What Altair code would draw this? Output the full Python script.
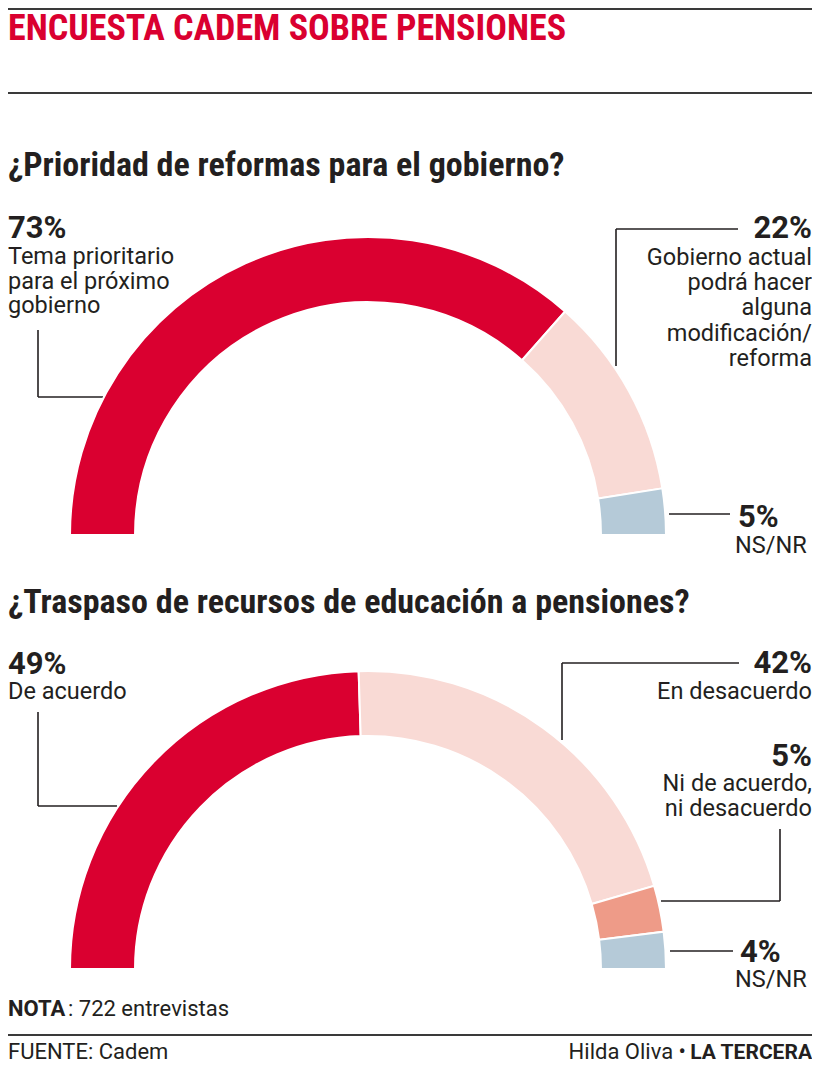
import altair as alt
import pandas as pd

# ---------------- data ----------------
TITLE = "ENCUESTA CADEM SOBRE PENSIONES"

Q1_TITLE = "¿Prioridad de reformas para el gobierno?"
Q1_CATS = ["Tema prioritario para el próximo gobierno",
           "Gobierno actual podrá hacer alguna modificación/reforma",
           "NS/NR"]
Q1_LINES = [["Tema prioritario", "para el próximo", "gobierno"],
            ["Gobierno actual", "podrá hacer", "alguna", "modificación/", "reforma"],
            ["NS/NR"]]
Q1_VALUES = [73, 22, 5]

Q2_TITLE = "¿Traspaso de recursos de educación a pensiones?"
Q2_CATS = ["De acuerdo", "En desacuerdo", "Ni de acuerdo, ni desacuerdo", "NS/NR"]
Q2_LINES = [["De acuerdo"], ["En desacuerdo"], ["Ni de acuerdo,", "ni desacuerdo"], ["NS/NR"]]
Q2_VALUES = [49, 42, 5, 4]

NOTE_BOLD = "NOTA"
NOTE_TEXT = ": 722 entrevistas"
SOURCE = "FUENTE:  Cadem"
AUTHOR = "Hilda Oliva •"
BRAND = "LA TERCERA"

# ---------------- style / layout ----------------
RED = "#DA0030"
PINK = "#F9DAD5"
SALMON = "#EE9B88"
BLUE = "#B5CAD8"
INK = "#231F20"
RULE = "#3A3A3A"
Q1_COLORS = [RED, PINK, BLUE]
Q2_COLORS = [RED, PINK, SALMON, BLUE]

BODY = "Roboto"
HEAD = "Liberation Sans Narrow, Roboto Condensed, Roboto"

# chart sits at page offset (8, 8); layout constants below are page pixels
W, H = 804, 1058
OFF = 8


def X(v):
    return min(max(v - OFF, 0), W)


def Y(v):
    return min(max(v - OFF, 1), H)


CX = 368
CY1, CY2 = 535, 969
R_OUT, R_IN = 298, 233


def arc_layer(cats, values, colors, cy):
    df = pd.DataFrame({"cat": cats, "value": values, "orden": list(range(len(cats)))})
    return alt.Chart(df).mark_arc(
        radius=R_OUT, radius2=R_IN, stroke="white", strokeWidth=2
    ).encode(
        theta=alt.Theta("value:Q", stack=True,
                        scale=alt.Scale(range=[4.71238898, 7.85398163], nice=False)),
        color=alt.Color("cat:N", scale=alt.Scale(domain=cats, range=colors), legend=None),
        order=alt.Order("orden:Q"),
        x=alt.value(X(CX)),
        y=alt.value(Y(cy)),
    )


def text_layer(rows, align, weight, size, color=INK, font=BODY, line_height=None):
    df = pd.DataFrame({"t": [r[0] for r in rows],
                       "x": [X(r[1]) for r in rows],
                       "y": [Y(r[2]) for r in rows]})
    mk = dict(align=align, baseline="alphabetic", fontWeight=weight,
              fontSize=size, color=color, font=font, lineBreak="\n")
    if line_height:
        mk["lineHeight"] = line_height
    return alt.Chart(df).mark_text(**mk).encode(
        x=alt.X("x:Q", scale=None, axis=None),
        y=alt.Y("y:Q", scale=None, axis=None),
        text="t:N",
    )


def rule_layer(segs, width, color=RULE):
    df = pd.DataFrame({"x": [X(s[0]) for s in segs], "y": [Y(s[1]) for s in segs],
                       "x2": [X(s[2]) for s in segs], "y2": [Y(s[3]) for s in segs]})
    return alt.Chart(df).mark_rule(strokeWidth=width, color=color).encode(
        x=alt.X("x:Q", scale=None, axis=None),
        y=alt.Y("y:Q", scale=None, axis=None),
        x2="x2:Q",
        y2="y2:Q",
    )


pct = lambda v: f"{v}%"
lines = lambda ls: "\n".join(ls)

layers = [
    # page rules
    rule_layer([(0, 1.5, 820, 1.5), (0, 93, 820, 93), (0, 1035, 820, 1035)], 2),
    # leaders
    rule_layer([
        (38, 330, 38, 397), (38, 397, 103, 397),
        (616, 229, 738, 229), (616, 229, 616, 366),
        (669, 514, 730, 514),
        (38, 712, 38, 806), (38, 806, 117, 806),
        (562, 663, 739, 663), (562, 663, 562, 740),
        (780, 829, 780, 901), (661, 901, 780, 901),
        (670, 951, 733, 951),
    ], 1.6, INK),
    arc_layer(Q1_CATS, Q1_VALUES, Q1_COLORS, CY1),
    arc_layer(Q2_CATS, Q2_VALUES, Q2_COLORS, CY2),
    # title
    text_layer([(TITLE, 0, 40)], "left", "bold", 36, RED, HEAD),
    # question headers
    text_layer([(Q1_TITLE, 0, 176), (Q2_TITLE, 0, 613)], "left", "bold", 34, INK, HEAD),
    # big percentages
    text_layer([(pct(Q1_VALUES[0]), 0, 238), (pct(Q1_VALUES[2]), 738, 527),
                (pct(Q2_VALUES[0]), 0, 674), (pct(Q2_VALUES[3]), 740, 962)],
               "left", "bold", 31),
    text_layer([(pct(Q1_VALUES[1]), 813, 238),
                (pct(Q2_VALUES[1]), 813, 673), (pct(Q2_VALUES[2]), 813, 766)],
               "right", "bold", 31),
    # category labels
    text_layer([(lines(Q1_LINES[0]), 1, 264), (lines(Q1_LINES[2]), 735, 553),
                (lines(Q2_LINES[0]), 1, 699), (lines(Q2_LINES[3]), 735, 987)],
               "left", "normal", 23.5, line_height=24.5),
    text_layer([(lines(Q1_LINES[1]), 813, 265),
                (lines(Q2_LINES[1]), 813, 699), (lines(Q2_LINES[2]), 813, 791)],
               "right", "normal", 23.5, line_height=25.2),
    # footer
    text_layer([(NOTE_BOLD, 0, 1016)], "left", "bold", 22),
    text_layer([(NOTE_TEXT, 68, 1016), (SOURCE, 0, 1059)], "left", "normal", 22),
    text_layer([(AUTHOR, 686, 1059)], "right", "normal", 22),
    text_layer([(BRAND, 818, 1059)], "right", "bold", 21),
]

chart = alt.layer(*layers).resolve_scale(
    theta="independent", color="independent"
).properties(
    width=W, height=H, padding=0,
    autosize=alt.AutoSizeParams(type="none"),
    background="white",
).configure_view(stroke=None)

chart.save("out.html", embed_options={"renderer": "svg", "actions": False})
